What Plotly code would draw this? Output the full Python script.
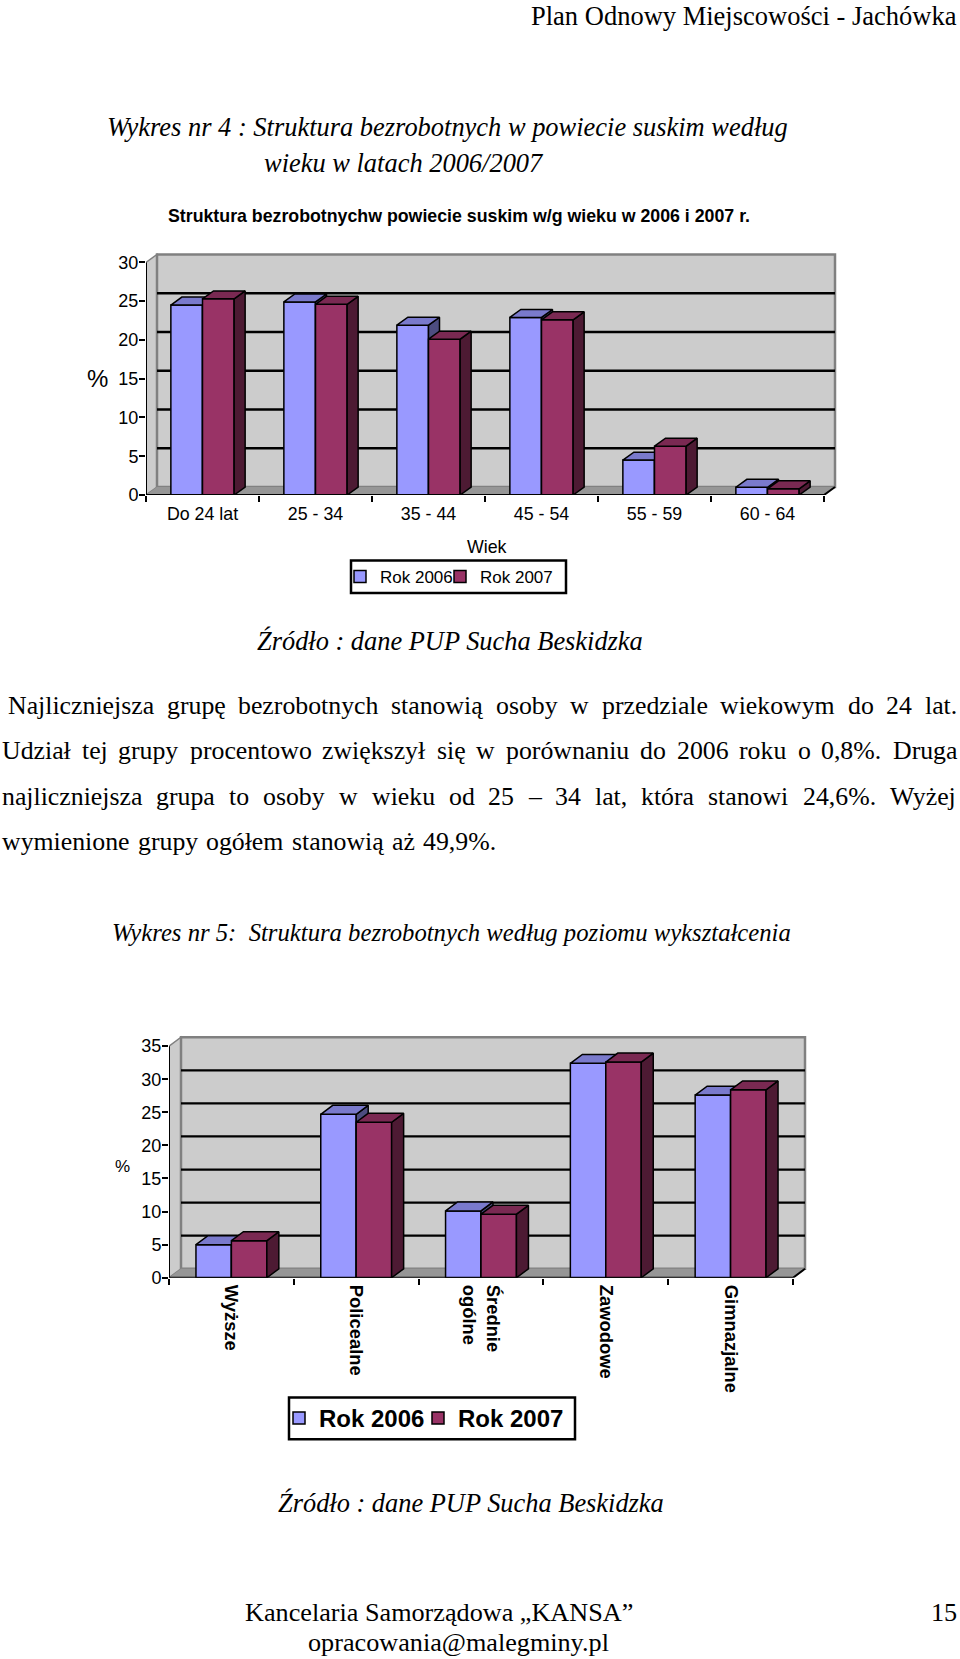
import plotly.graph_objects as go

W, H = 960, 1659

# ---------- data ----------
age_labels = ["Do 24 lat", "25 - 34", "35 - 44", "45 - 54", "55 - 59", "60 - 64"]
age_2006 = [24.5, 24.9, 21.9, 22.9, 4.5, 1.0]
age_2007 = [25.3, 24.6, 20.1, 22.6, 6.3, 0.8]
age_ticks = [0, 5, 10, 15, 20, 25, 30]

edu_labels = ["Wyższe", "Policealne", "Średnie<br>ogólne", "Zawodowe", "Gimnazjalne"]
edu_2006 = [5.0, 24.7, 10.1, 32.4, 27.6]
edu_2007 = [5.6, 23.5, 9.6, 32.6, 28.4]
edu_ticks = [0, 5, 10, 15, 20, 25, 30, 35]

series_names = ["Rok 2006", "Rok 2007"]

paragraph = [
    "Najliczniejsza grupę bezrobotnych stanowią osoby w przedziale wiekowym do 24 lat.",
    "Udział tej grupy procentowo zwiększył się w porównaniu do 2006 roku o 0,8%. Druga",
    "najliczniejsza grupa to osoby w wieku od 25 – 34 lat, która stanowi 24,6%. Wyżej",
    "wymienione grupy ogółem stanowią aż 49,9%.",
]

# ---------- style ----------
C06, C07 = "#9999FF", "#993366"
C06_SIDE, C07_SIDE = "#4D4D80", "#4D1A33"
C06_TOP, C07_TOP = "#7A7ACC", "#7A2952"
WALL, FLOOR, EDGE = "#CCCCCC", "#969696", "#808080"
SANS = "Liberation Sans"
SERIF = "Liberation Serif"

TIMES = dict(a=444, b=500, c=444, d=500, e=444, f=333, g=500, h=500, i=278, j=278, k=500, l=278, m=778,
             n=500, o=500, p=500, q=500, r=333, s=389, t=278, u=500, v=500, w=722, x=500, y=500, z=444)
TIMES.update({"ą": 444, "ę": 444, "ł": 278, "ó": 500, "ż": 444, "ś": 389, ",": 250, ".": 250, "%": 833,
              "–": 500, "N": 722, "U": 722, "D": 722, "W": 944})


def text_width(s):
    return sum(TIMES.get(c, 500) for c in s) / 1000


fig = go.Figure()
shapes, annotations = [], []
layout = {}


def note(text, x, y, size, anchor="left", family=SERIF, italic=False, bold=False):
    annotations.append(dict(
        text=text, x=x / W, y=1 - y / H, xref="paper", yref="paper", xanchor=anchor, yanchor="middle",
        showarrow=False, borderpad=0,
        font=dict(family=family, size=size, color="black", style="italic" if italic else "normal",
                  weight="bold" if bold else "normal")))


def justified(line, left, right, y, size):
    words = line.split(" ")
    total = sum(text_width(w) for w in words) * size
    gap = (right - left - total) / (len(words) - 1)
    x = left
    for w in words:
        note(w, x, y, size)
        x += text_width(w) * size + gap


def faces(xs, vals, off, w, dx, dy):
    sx, sy, tx, ty = [], [], [], []
    for x, v in zip(xs, vals):
        a, b = x + off, x + off + w
        sx += [b, b + dx, b + dx, b, b, None]
        sy += [0, dy, v + dy, v, 0, None]
        tx += [a, a + dx, b + dx, b, a, None]
        ty += [v, v + dy, v + dy, v, v, None]
    return sx, sy, tx, ty


def chart(labels, v06, v07, ticks, left, right, rdom, y0, ytop, ymax, bar_w, dx_px, dy_px, xa, ya, xb, yb,
          legends, tick_size, xlab_font, standoff, tickangle, grid_w):
    unit_x = (right - left) / len(labels)
    unit_y = (y0 - ytop) / ymax
    dx, dy = dx_px / unit_x, dy_px / unit_y
    xs = list(range(len(labels)))
    x_rng = [-0.5, len(labels) - 0.5 + (rdom - right) / unit_x]
    dtop = ytop - dy_px - 4
    y_rng = [0, (y0 - dtop) / unit_y]
    l, r = -0.5, len(labels) - 0.5
    xref, yref = xa.replace("axis", ""), ya.replace("axis", "")

    def poly(px, py, fill, line=None, width=0):
        d = "M" + " L".join(f"{a},{b}" for a, b in zip(px, py)) + " Z"
        shapes.append(dict(type="path", path=d, xref=xref, yref=yref, fillcolor=fill, layer="below",
                           line=dict(color=line or fill, width=width)))

    poly([l, l + dx, l + dx, l], [0, dy, ymax + dy, ymax], WALL, EDGE, 1.5)
    poly([l + dx, r + dx, r + dx, l + dx], [dy, dy, ymax + dy, ymax + dy], WALL, EDGE, 2.5)
    for t in ticks[1:-1]:
        shapes.append(dict(type="line", xref=xref, yref=yref, x0=l + dx, x1=r + dx, y0=t + dy, y1=t + dy,
                           layer="below", line=dict(color="black", width=grid_w)))
    poly([l, r, r + dx, l + dx], [0, 0, dy, dy], FLOOR)

    dom_x = [left / W, rdom / W]
    dom_y = [1 - y0 / H, 1 - dtop / H]
    layout[xa] = dict(domain=dom_x, range=x_rng, anchor=yref, showgrid=False, zeroline=False, showline=False,
                      tickmode="array", tickvals=xs, ticktext=labels, ticks="", tickfont=xlab_font,
                      tickangle=tickangle, ticklabelstandoff=standoff,
                      minor=dict(tickmode="array", tickvals=[i - 0.5 for i in range(len(labels) + 1)],
                                 ticks="outside", ticklen=6, tickwidth=2, tickcolor="black", showgrid=False))
    layout[ya] = dict(domain=dom_y, range=y_rng, anchor=xref, showgrid=False, zeroline=False, showline=False,
                      tickmode="array", tickvals=ticks, ticks="outside", ticklen=6, tickwidth=2,
                      tickcolor="black", ticklabelstandoff=-3,
                      tickfont=dict(family=SANS, size=tick_size, color="black"))
    layout[xb] = dict(overlaying=xref, range=x_rng, visible=False, anchor=yb.replace("axis", ""))
    layout[yb] = dict(overlaying=yref, range=y_rng, visible=False, anchor=xb.replace("axis", ""))

    def bar_group(vals, off, name, col, side, top, xr, yr, leg):
        fig.add_trace(go.Bar(x=xs, y=vals, width=bar_w, offset=off, name=name, marker_color=col,
                             marker_line=dict(color="black", width=1.5), xaxis=xr, yaxis=yr, legend=leg))
        sx, sy, tx, ty = faces(xs, vals, off, bar_w, dx, dy)
        for fx, fy, c in ((sx, sy, side), (tx, ty, top)):
            fig.add_trace(go.Scatter(x=fx, y=fy, mode="lines", fill="toself", fillcolor=c, hoverinfo="skip",
                                     line=dict(color="black", width=1.5), showlegend=False, xaxis=xr, yaxis=yr))

    bar_group(v06, -bar_w, series_names[0], C06, C06_SIDE, C06_TOP, xref, yref, legends[0])
    bar_group(v07, 0, series_names[1], C07, C07_SIDE, C07_TOP, xb.replace("axis", ""), yb.replace("axis", ""),
              legends[1])
    fig.add_trace(go.Scatter(x=[l, l, r, r + dx], y=[ymax, 0, 0, dy], mode="lines", cliponaxis=False,
                             line=dict(color="black", width=2), hoverinfo="skip", showlegend=False,
                             xaxis=xb.replace("axis", ""), yaxis=yb.replace("axis", "")))


# chart 1
chart(age_labels, age_2006, age_2007, age_ticks, 146, 824, 838, 498, 264, 30, 0.28, 11, 8,
      "xaxis", "yaxis", "xaxis2", "yaxis2", ("legend", "legend3"), 18,
      dict(family=SANS, size=17.8, color="black"), 6, 0, 2.4)
# chart 2
chart(edu_labels, edu_2006, edu_2007, edu_ticks, 169, 793, 808, 1285.5, 1052.5, 35, 0.284, 12, 9,
      "xaxis3", "yaxis3", "xaxis4", "yaxis4", ("legend2", "legend4"), 18,
      dict(family=SANS, size=18.4, color="black", weight="bold"), 6, 90, 2.2)


def frame(x0, y0, x1, y1):
    shapes.append(dict(type="rect", xref="paper", yref="paper", x0=x0 / W, x1=x1 / W, y0=1 - y0 / H, y1=1 - y1 / H,
                       fillcolor="white", line=dict(color="black", width=2.5), layer="below"))


def legend_at(text_x, y, size, bold=False):
    return dict(x=(text_x - 40) / W, y=1 - y / H, xanchor="left", yanchor="middle", orientation="h",
                bgcolor="rgba(0,0,0,0)", borderwidth=0,
                font=dict(family=SANS, size=size, color="black", weight="bold" if bold else "normal"),
                itemclick=False, itemdoubleclick=False)


frame(351, 564, 566, 596.5)
frame(289, 1406, 575, 1448)
layout["legend"] = legend_at(380, 580.5, 17)
layout["legend3"] = legend_at(480, 580.5, 17)
layout["legend2"] = legend_at(319, 1427, 24, bold=True)
layout["legend4"] = legend_at(458, 1427, 24, bold=True)

# ---------- page text ----------
note("Plan Odnowy Miejscowości - Jachówka", 958, 16, 26.5, anchor="right")
note("Wykres nr 4 : Struktura bezrobotnych w powiecie suskim według", 106, 128, 26.45, italic=True)
note("wieku w latach 2006/2007", 262.5, 164, 26.45, italic=True)
note("Struktura bezrobotnychw powiecie suskim w/g wieku w 2006 i 2007 r.", 459, 217, 17.75,
     anchor="center", family=SANS, bold=True)
note("Wiek", 487, 550, 17.8, anchor="center", family=SANS)
note("%", 97, 381, 24, anchor="center", family=SANS)
note("Źródło : dane PUP Sucha Beskidzka", 256, 645, 26.4, italic=True)
justified(paragraph[0], 7, 956, 709.5, 25.8)
justified(paragraph[1], 1, 956, 755, 25.8)
justified(paragraph[2], 1, 956, 801, 25.8)
justified(paragraph[3], 1, 495, 847, 25.8)
note("Wykres nr 5:  Struktura bezrobotnych według poziomu wykształcenia", 111, 938, 24.7, italic=True)
note("%", 123, 1173.5, 17, anchor="center", family=SANS)
note("Źródło : dane PUP Sucha Beskidzka", 277, 1512.5, 26.4, italic=True)
note("Kancelaria Samorządowa „KANSA”", 244, 1622.5, 26.2)
note("opracowania@malegminy.pl", 307, 1652, 26.2)
note("15", 958, 1622.5, 26.2, anchor="right")

fig.update_layout(width=W, height=H, autosize=False, margin=dict(l=0, r=0, t=0, b=0), paper_bgcolor="white",
                  plot_bgcolor="rgba(0,0,0,0)", barmode="overlay", shapes=shapes, annotations=annotations,
                  showlegend=True, **layout)
fig.write_html("out.html", post_script="document.body.style.margin='0';", config=dict(displayModeBar=False))
